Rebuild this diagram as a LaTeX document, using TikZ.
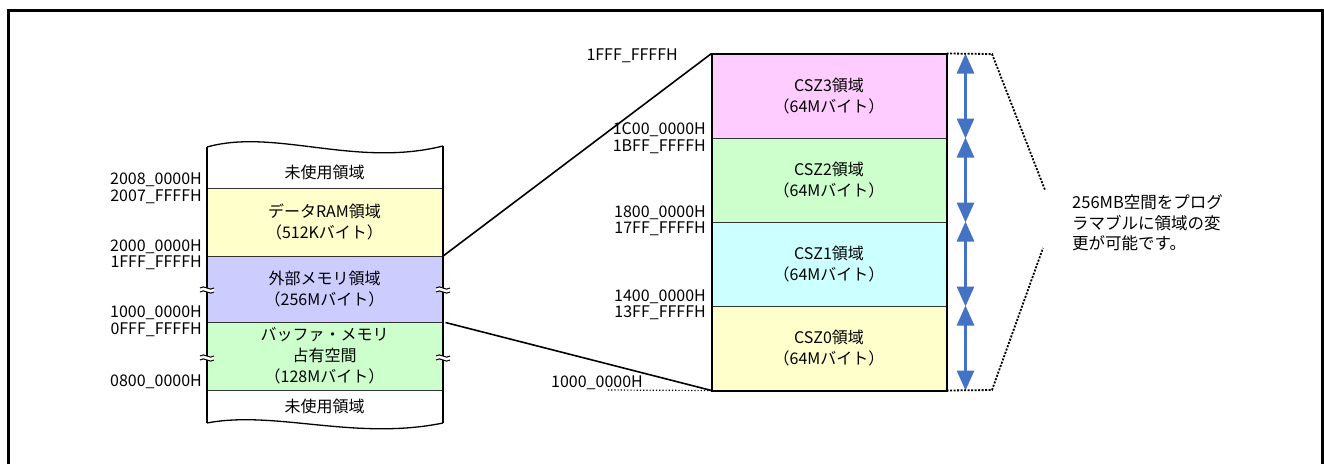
\documentclass[tikz,border=0pt]{standalone}
\usepackage{fontspec}
\setmainfont{Noto Sans CJK JP}
\usepackage{xcolor}
\usepackage{tikz}
\usetikzlibrary{arrows.meta,positioning}
\definecolor{ramyellow}{HTML}{FFFFCC}
\definecolor{extblue}{HTML}{CCCCFF}
\definecolor{bufgreen}{HTML}{CCFFCC}
\definecolor{cszpink}{HTML}{FFCCFF}
\definecolor{cszcyan}{HTML}{CCFFFF}
\definecolor{arrowblue}{HTML}{4472C4}

\begin{document}
\begin{tikzpicture}[
    x=1pt, y=-1pt,
    font=\fontsize{16}{21}\selectfont,
    row/.style={draw=black!80, line width=1pt, minimum width=235pt, align=center, inner sep=0pt},
    cszrow/.style={row, minimum width=234pt, minimum height=84pt},
    addr/.style={anchor=east, inner sep=0pt},
    edge/.style={line width=2pt},
    wave/.style={line width=1.3pt},
    zoomline/.style={line width=1.6pt},
    sizearrow/.style={{Triangle[width=17pt,length=20pt]}-{Triangle[width=17pt,length=20pt]}, line width=3pt, arrowblue},
    bracket/.style={line width=1.8pt, dash pattern=on 2pt off 1.5pt}
]
\useasboundingbox (0,0) rectangle (1324,464);
\draw[line width=3pt] (8,464) -- (8,10.5) -- (1322,10.5) -- (1322,464);

\node[row, fill=ramyellow, minimum height=68pt] (ram) at (324.5,222) {データRAM領域\\（512Kバイト）};
\node[row, fill=extblue, minimum height=66pt] (ext) at (324.5,289) {外部メモリ領域\\（256Mバイト）};
\node[row, fill=bufgreen, minimum height=68pt] (buf) at (324.5,356) {バッファ・メモリ\\占有空間\\（128Mバイト）};
\node (unusedtop) at (324.5,172) {未使用領域};
\node (unusedbot) at (324.5,406) {未使用領域};

\draw[edge] (207,147) -- (207,423);
\draw[edge] (443,146) -- (443,423);
\draw[wave] (207,147) .. controls (275,128) and (355,168) .. (443,146);
\draw[wave] (443,423) .. controls (355,441) and (275,410) .. (207,423);
\foreach \bx in {207,443}
  \foreach \by in {289,357} {
    \fill[white] (\bx-7,\by-1) .. controls (\bx-3,\by-5) and (\bx+3,\by+3) .. (\bx+7,\by-1)
      -- (\bx+7,\by+3) .. controls (\bx+3,\by+7) and (\bx-3,\by-1) .. (\bx-7,\by+3) -- cycle;
    \draw[line width=1pt] (\bx-7,\by-1) .. controls (\bx-3,\by-5) and (\bx+3,\by+3) .. (\bx+7,\by-1);
    \draw[line width=1pt] (\bx-7,\by+3) .. controls (\bx-3,\by-1) and (\bx+3,\by+7) .. (\bx+7,\by+3);
  }

\node[addr] (a2008) at (202,180) {2008\_0000H};
\node[addr] (a2007) at (202,197) {2007\_FFFFH};
\node[addr] (a2000) at (202,247) {2000\_0000H};
\node[addr] (a1fff) at (202,263) {1FFF\_FFFFH};
\node[addr] (a1000) at (202,313) {1000\_0000H};
\node[addr] (a0fff) at (202,330) {0FFF\_FFFFH};
\node[addr] (a0800) at (202,382) {0800\_0000H};

\node[cszrow, fill=cszpink] (csz3) at (829,96) {CSZ3領域\\（64Mバイト）};
\node[cszrow, fill=bufgreen] (csz2) at (829,180) {CSZ2領域\\（64Mバイト）};
\node[cszrow, fill=cszcyan] (csz1) at (829,264) {CSZ1領域\\（64Mバイト）};
\node[cszrow, fill=ramyellow] (csz0) at (829,348) {CSZ0領域\\（64Mバイト）};
\draw[edge] (csz3.north west) rectangle (csz0.south east);

\node[addr] (r1fff) at (678,56) {1FFF\_FFFFH};
\node[addr] (r1c00) at (706,130) {1C00\_0000H};
\node[addr] (r1bff) at (706,147) {1BFF\_FFFFH};
\node[addr] (r1800) at (706,213) {1800\_0000H};
\node[addr] (r17ff) at (706,229) {17FF\_FFFFH};
\node[addr] (r1400) at (706,297) {1400\_0000H};
\node[addr] (r13ff) at (706,313) {13FF\_FFFFH};
\node[addr] (r1000) at (643,383) {1000\_0000H};
\coordinate (lowtick) at (607,390);
\draw[line width=1.2pt, dotted] (csz0.south west) -- (lowtick);

\draw[zoomline] (ram.south east) -- (csz3.north west);
\draw[zoomline] ([xshift=3pt]ext.south east) -- (csz0.south west);

\foreach \r in {0,...,3}
  \draw[sizearrow] ([xshift=19pt]csz\r.north east) -- ([xshift=19pt]csz\r.south east);

\coordinate (brtop) at (992,54);
\coordinate (brtopend) at (1045,190);
\coordinate (brbot) at (992,390);
\coordinate (brbotend) at (1043,248);
\draw[bracket] (csz3.north east) -- (brtop) -- (brtopend);
\draw[bracket] (csz0.south east) -- (brbot) -- (brbotend);

\node[anchor=west, align=left, inner sep=0pt, font=\fontsize{16.5}{20.5}\selectfont] (note) at (1072,223) {256MB空間をプログ\\ラマブルに領域の変\\更が可能です。};
\end{tikzpicture}
\end{document}
